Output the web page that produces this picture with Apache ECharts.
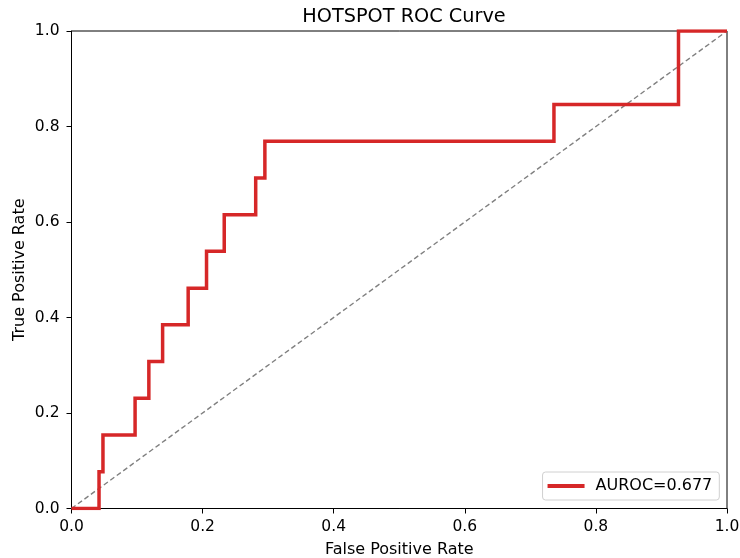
<!DOCTYPE html>
<html>
<head>
<meta charset="utf-8">
<script src="https://cdn.jsdelivr.net/npm/echarts@6/dist/echarts.min.js"></script>
<style>html,body{margin:0;padding:0;background:#fff}#c{width:740px;height:558px}</style>
</head>
<body>
<div id="c"></div>
<script>
const fpr = [0, 0.042, 0.042, 0.048, 0.048, 0.097, 0.097, 0.118, 0.118, 0.139, 0.139, 0.178, 0.178, 0.206, 0.206, 0.233, 0.233, 0.281, 0.281, 0.295, 0.295, 0.736, 0.736, 0.926, 0.926, 1.0];
const tpr = [0, 0, 0.0769, 0.0769, 0.1538, 0.1538, 0.2308, 0.2308, 0.3077, 0.3077, 0.3846, 0.3846, 0.4615, 0.4615, 0.5385, 0.5385, 0.6154, 0.6154, 0.6923, 0.6923, 0.7692, 0.7692, 0.8462, 0.8462, 1.0, 1.0];
const chanceX = [0, 1];
const chanceY = [0, 1];
const tickValues = [0, 0.2, 0.4, 0.6, 0.8, 1.0];
const seriesName = 'AUROC=0.677';
const titleText = 'HOTSPOT ROC Curve';

const font = 'DejaVu Sans';
const chart = echarts.init(document.getElementById('c'), null, {renderer: 'canvas'});
const axisCommon = {
  type: 'value', min: 0, max: 1, interval: 0.2,
  axisLine: {show: true, onZero: false, lineStyle: {color: '#000', width: 1}},
  axisTick: {show: true, inside: false, length: 5, lineStyle: {color: '#000', width: 1}},
  splitLine: {show: false},
  axisLabel: {color: '#000', fontFamily: font, fontSize: 15.5, formatter: v => v.toFixed(1), showMinLabel: true, showMaxLabel: true},
  nameLocation: 'middle',
  nameMoveOverlap: false,
  nameTextStyle: {color: '#000', fontFamily: font, fontSize: 16}
};
chart.setOption({
  animation: false,
  backgroundColor: '#fff',
  title: {
    text: titleText, left: 399, top: 2, textAlign: 'center',
    textStyle: {color: '#000', fontFamily: font, fontSize: 19.3, fontWeight: 'normal'}
  },
  grid: {left: 71.5, right: 13, top: 31, bottom: 49.5, show: true, borderColor: '#000', borderWidth: 1, containLabel: false, outerBoundsMode: 'none'},
  xAxis: Object.assign({}, axisCommon, {name: 'False Positive Rate', nameGap: 33, axisLabel: Object.assign({}, axisCommon.axisLabel, {margin: 10})}),
  yAxis: Object.assign({}, axisCommon, {name: 'True Positive Rate', nameGap: 44, axisLabel: Object.assign({}, axisCommon.axisLabel, {margin: 12})}),
  legend: {
    data: [{name: seriesName, icon: 'rect'}],
    right: 20.7, bottom: 58,
    itemWidth: 37, itemHeight: 4, itemGap: 8,
    padding: [6, 7, 6, 5],
    borderColor: '#d0d0d0', borderWidth: 1, borderRadius: 3,
    backgroundColor: 'rgba(255,255,255,0.8)',
    textStyle: {color: '#000', fontFamily: font, fontSize: 16, padding: [0, 0, 0, 6]}
  },
  series: [
    {
      name: 'chance', type: 'line', data: chanceX.map((x, i) => [x, chanceY[i]]),
      showSymbol: false, symbol: 'none', silent: true,
      lineStyle: {color: '#808080', width: 1.4, type: [5, 3]}, z: 1
    },
    {
      name: seriesName, type: 'line', data: fpr.map((x, i) => [x, tpr[i]]),
      showSymbol: false, symbol: 'none',
      lineStyle: {color: '#d62728', width: 3.5, join: 'miter', cap: 'butt'},
      itemStyle: {color: '#d62728'}, z: 3
    }
  ]
});
</script>
</body>
</html>
